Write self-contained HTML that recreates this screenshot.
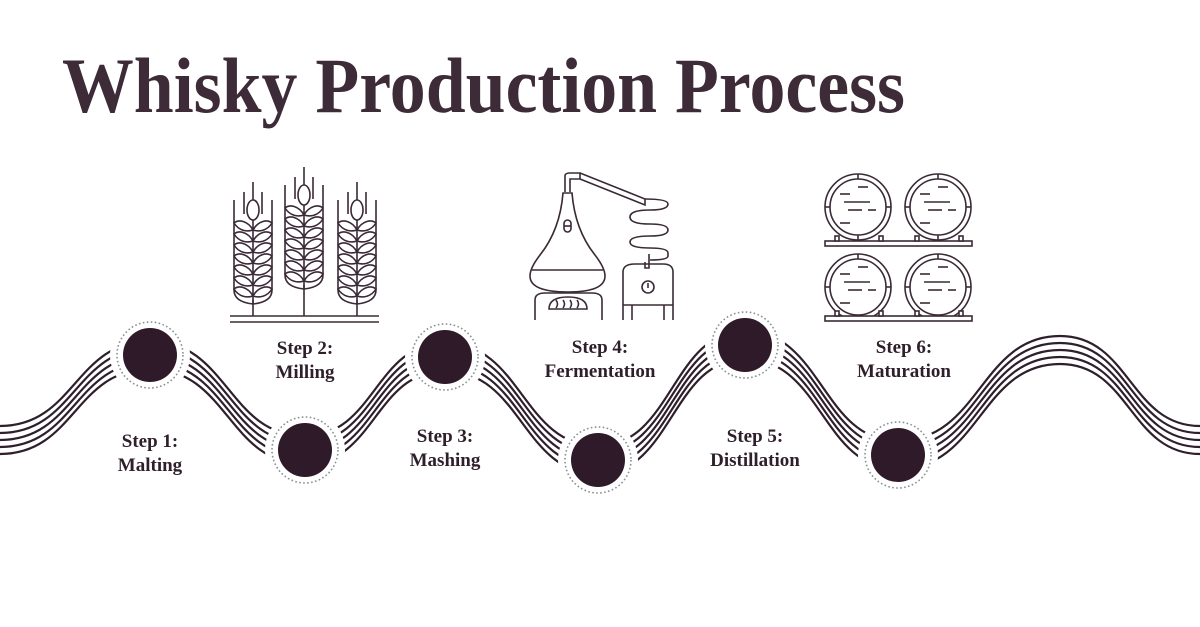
<!DOCTYPE html>
<html><head><meta charset="utf-8"><style>
html,body{margin:0;padding:0;background:#fff;}
svg{display:block;}
</style></head><body>
<svg width="1200" height="627" viewBox="0 0 1200 627" xmlns="http://www.w3.org/2000/svg">
<defs>
<path id="wave" d="M0,440 C75,440 75,355 150,355 C228,355 228,450 305,450 C375,450 375,357 445,357 C522,357 522,460 598,460 C672,460 672,345 745,345 C822,345 822,455 898,455 C980,455 980,350 1060,350 C1130,350 1130,440 1200,440" fill="none" stroke="#2e1f2b" stroke-width="2.2"/>
<g id="stalk" fill="none" stroke="#3a2a36" stroke-width="1.6">
  <line x1="0" y1="-18" x2="0" y2="0"/>
  <line x1="-9" y1="-8" x2="-9" y2="14"/>
  <line x1="9" y1="-8" x2="9" y2="14"/>
  <line x1="-19" y1="0" x2="-19" y2="20"/>
  <line x1="19" y1="0" x2="19" y2="20"/>
  <ellipse cx="0" cy="10" rx="6" ry="10"/>
  <path d="M-19,20 L-19,90 Q-19,102 0,104 Q19,102 19,90 L19,20"/>
  <g id="leafrow">
    <path d="M0,30 C-5,21 -14,19 -19,23 C-14,31 -6,32 0,30 Z"/>
    <path d="M0,30 C5,21 14,19 19,23 C14,31 6,32 0,30 Z"/>
  </g>
  <use href="#leafrow" y="11"/><use href="#leafrow" y="22"/><use href="#leafrow" y="33"/>
  <use href="#leafrow" y="44"/><use href="#leafrow" y="55"/><use href="#leafrow" y="66"/>
  <line x1="0" y1="20" x2="0" y2="104"/>
</g>
<g id="barrel" fill="none" stroke="#3a2a36" stroke-width="1.6">
  <circle r="33"/><circle r="28"/>
  <line x1="0" y1="-33" x2="0" y2="-28"/><line x1="0" y1="33" x2="0" y2="28"/>
  <line x1="-33" y1="0" x2="-28" y2="0"/><line x1="33" y1="0" x2="28" y2="0"/>
  <line x1="0" y1="-20" x2="10" y2="-20"/>
  <line x1="-18" y1="-13" x2="-8" y2="-13"/>
  <line x1="-14" y1="-5" x2="12" y2="-5"/>
  <line x1="-10" y1="3" x2="4" y2="3"/><line x1="10" y1="3" x2="18" y2="3"/>
  <line x1="-18" y1="16" x2="-8" y2="16"/>
</g>
<g id="node">
  <circle r="40" fill="#fff"/>
  <circle r="33" fill="none" stroke="#8a9096" stroke-width="1.6" stroke-dasharray="1.6 2.4"/>
  <circle r="27" fill="#2e1a28"/>
</g>
</defs>

<text x="62" y="112" font-family="Liberation Serif, serif" font-weight="bold" font-size="78" fill="#3d2b38" textLength="843" lengthAdjust="spacingAndGlyphs">Whisky Production Process</text>

<use href="#wave" y="-14"/><use href="#wave" y="-7"/><use href="#wave"/><use href="#wave" y="7"/><use href="#wave" y="14"/>

<use href="#node" x="150" y="355"/>
<use href="#node" x="305" y="450"/>
<use href="#node" x="445" y="357"/>
<use href="#node" x="598" y="460"/>
<use href="#node" x="745" y="345"/>
<use href="#node" x="898" y="455"/>

<use href="#stalk" x="253" y="200"/>
<use href="#stalk" x="304" y="185"/>
<use href="#stalk" x="357" y="200"/>
<line x1="253" y1="300" x2="253" y2="316" stroke="#3a2a36" stroke-width="1.6"/>
<line x1="304" y1="285" x2="304" y2="316" stroke="#3a2a36" stroke-width="1.6"/>
<line x1="357" y1="300" x2="357" y2="316" stroke="#3a2a36" stroke-width="1.6"/>
<line x1="230" y1="316" x2="379" y2="316" stroke="#3a2a36" stroke-width="1.6"/>
<line x1="230" y1="322" x2="379" y2="322" stroke="#3a2a36" stroke-width="1.6"/>

<g fill="none" stroke="#3a2a36" stroke-width="1.6">
  <path d="M565,192 L565,176 Q565,173 570,173 L580,173 L580,179 L570,179 L570,192"/>
  <path d="M580,173 L645,199 L645,205 L580,179"/>
  <path d="M645,199 Q668,199 668,204 Q668,210 650,210 Q630,210 630,217 Q630,224 650,224 Q668,224 668,230 Q668,236 650,236 Q630,236 630,242 Q630,248 650,248 Q668,248 668,253 L668,256 Q668,260 650,260 L652,260"/>
  <path d="M649,254 L649,268 L645,268 L645,262"/>
  <path d="M563,193 L572,193 Q575,230 595,255 Q605,268 605,276 Q605,292 568,292 Q530,292 530,276 Q530,268 540,255 Q560,230 563,193 Z"/>
  <line x1="532" y1="270" x2="603" y2="270"/>
  <rect x="564" y="220" width="7" height="12" rx="3.5"/>
  <line x1="564" y1="226" x2="571" y2="226"/>
  <path d="M535,320 L535,300 Q535,293 545,293 L592,293 Q602,293 602,300 L602,320"/>
  <path d="M549,309 Q549,297 568,297 Q587,297 587,309 Z"/>
  <path d="M556,308 q3,-4 0,-8 M563,308 q3,-4 0,-8 M570,308 q3,-4 0,-8 M577,308 q3,-4 0,-8"/>
  <path d="M623,320 L623,272 Q623,264 635,264 L663,264 Q673,264 673,272 L673,320"/>
  <line x1="623" y1="305" x2="673" y2="305"/>
  <line x1="632" y1="305" x2="632" y2="320"/><line x1="664" y1="305" x2="664" y2="320"/>
  <circle cx="648" cy="287" r="6"/><line x1="648" y1="283" x2="648" y2="288"/>
</g>

<use href="#barrel" x="858" y="207"/>
<use href="#barrel" x="938" y="207"/>
<use href="#barrel" x="858" y="287"/>
<use href="#barrel" x="938" y="287"/>
<g fill="#fff" stroke="#3a2a36" stroke-width="1.6">
  <rect x="825" y="241" width="147" height="5"/>
  <rect x="825" y="316" width="147" height="5"/>
  <rect x="835" y="236" width="4" height="5"/><rect x="879" y="236" width="4" height="5"/>
  <rect x="915" y="236" width="4" height="5"/><rect x="959" y="236" width="4" height="5"/>
  <rect x="835" y="311" width="4" height="5"/><rect x="879" y="311" width="4" height="5"/>
  <rect x="915" y="311" width="4" height="5"/><rect x="959" y="311" width="4" height="5"/>
</g>

<g font-family="Liberation Serif, serif" font-weight="bold" font-size="19" fill="#2e1f2b" text-anchor="middle">
  <text x="150" y="447">Step 1:</text><text x="150" y="471">Malting</text>
  <text x="305" y="354">Step 2:</text><text x="305" y="378">Milling</text>
  <text x="445" y="442">Step 3:</text><text x="445" y="466">Mashing</text>
  <text x="600" y="353">Step 4:</text><text x="600" y="377">Fermentation</text>
  <text x="755" y="442">Step 5:</text><text x="755" y="466">Distillation</text>
  <text x="904" y="353">Step 6:</text><text x="904" y="377">Maturation</text>
</g>
</svg>
</body></html>
